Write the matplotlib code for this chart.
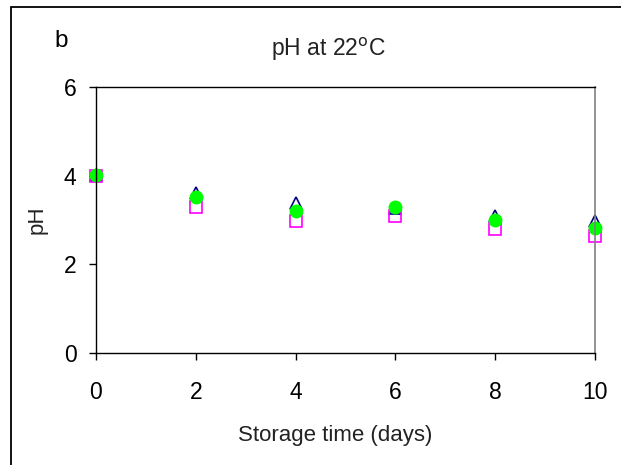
import matplotlib
matplotlib.use("Agg")
import matplotlib.pyplot as plt
from matplotlib.patches import Rectangle

# storage time (days) and pH readings for the three treatments
days = [0, 2, 4, 6, 8, 10]
ph_triangle = [4.02, 3.60, 3.38, 3.28, 3.10, 2.97]
ph_square = [4.00, 3.29, 2.98, 3.10, 2.80, 2.63]
ph_circle = [4.02, 3.51, 3.21, 3.29, 2.99, 2.81]

x_ticks = [0, 2, 4, 6, 8, 10]
y_ticks = [0, 2, 4, 6]

plt.rcParams['font.family'] = ['Liberation Sans', 'DejaVu Sans']

fig = plt.figure(figsize=(6.21, 4.65), dpi=100)
ax = fig.add_axes([96 / 621, 112 / 465, 499 / 621, 266 / 465])

# outer frame (runs off the right and bottom of the picture)
frame_top = 1 - 7 / 465
frame = Rectangle((11 / 621, -0.2), 1.2, frame_top + 0.2, transform=fig.transFigure,
                  fill=False, edgecolor='black', linewidth=1.3, clip_on=False)
fig.patches.append(frame)

ax.plot(days, ph_triangle, linestyle='none', marker='^', markersize=9,
        markerfacecolor='none', markeredgecolor='#000080', markeredgewidth=1.2, clip_on=False)
ax.plot(days, ph_square, linestyle='none', marker='s', markersize=8.5,
        markerfacecolor='none', markeredgecolor='#FF00FF', markeredgewidth=1.2, clip_on=False)
ax.plot(days, ph_circle, linestyle='none', marker='o', markersize=9,
        markerfacecolor='#00FF00', markeredgecolor='#00FF00', clip_on=False)

ax.set_xlim(0, 10)
ax.set_ylim(0, 6)
ax.set_xticks(x_ticks)
ax.set_yticks(y_ticks)
ax.tick_params(axis='both', direction='out', length=5, width=1, labelsize=16.5)
ax.tick_params(axis='x', pad=15)
ax.tick_params(axis='y', pad=9)

for side in ['left', 'bottom', 'top']:
    ax.spines[side].set_color('black')
    ax.spines[side].set_linewidth(1)
ax.spines['right'].set_color('#808080')
ax.spines['right'].set_linewidth(1.2)

ax.set_xlabel('Storage time (days)', fontsize=16, color='#222222')
ax.xaxis.set_label_coords(0.48, -0.27)
ax.set_ylabel('pH', fontsize=16, color='#222222')
ax.yaxis.set_label_coords(-0.098, 0.5)

ax.text(0.465, 1.115, 'pH at 22$^{\\mathrm{o}}$C', transform=ax.transAxes,
        ha='center', va='baseline', fontsize=16.5, color='#222222')
fig.text(61 / 621, 1 - 47 / 465, 'b', ha='center', va='baseline', fontsize=17.5)

fig.savefig('out.png', dpi=100)
